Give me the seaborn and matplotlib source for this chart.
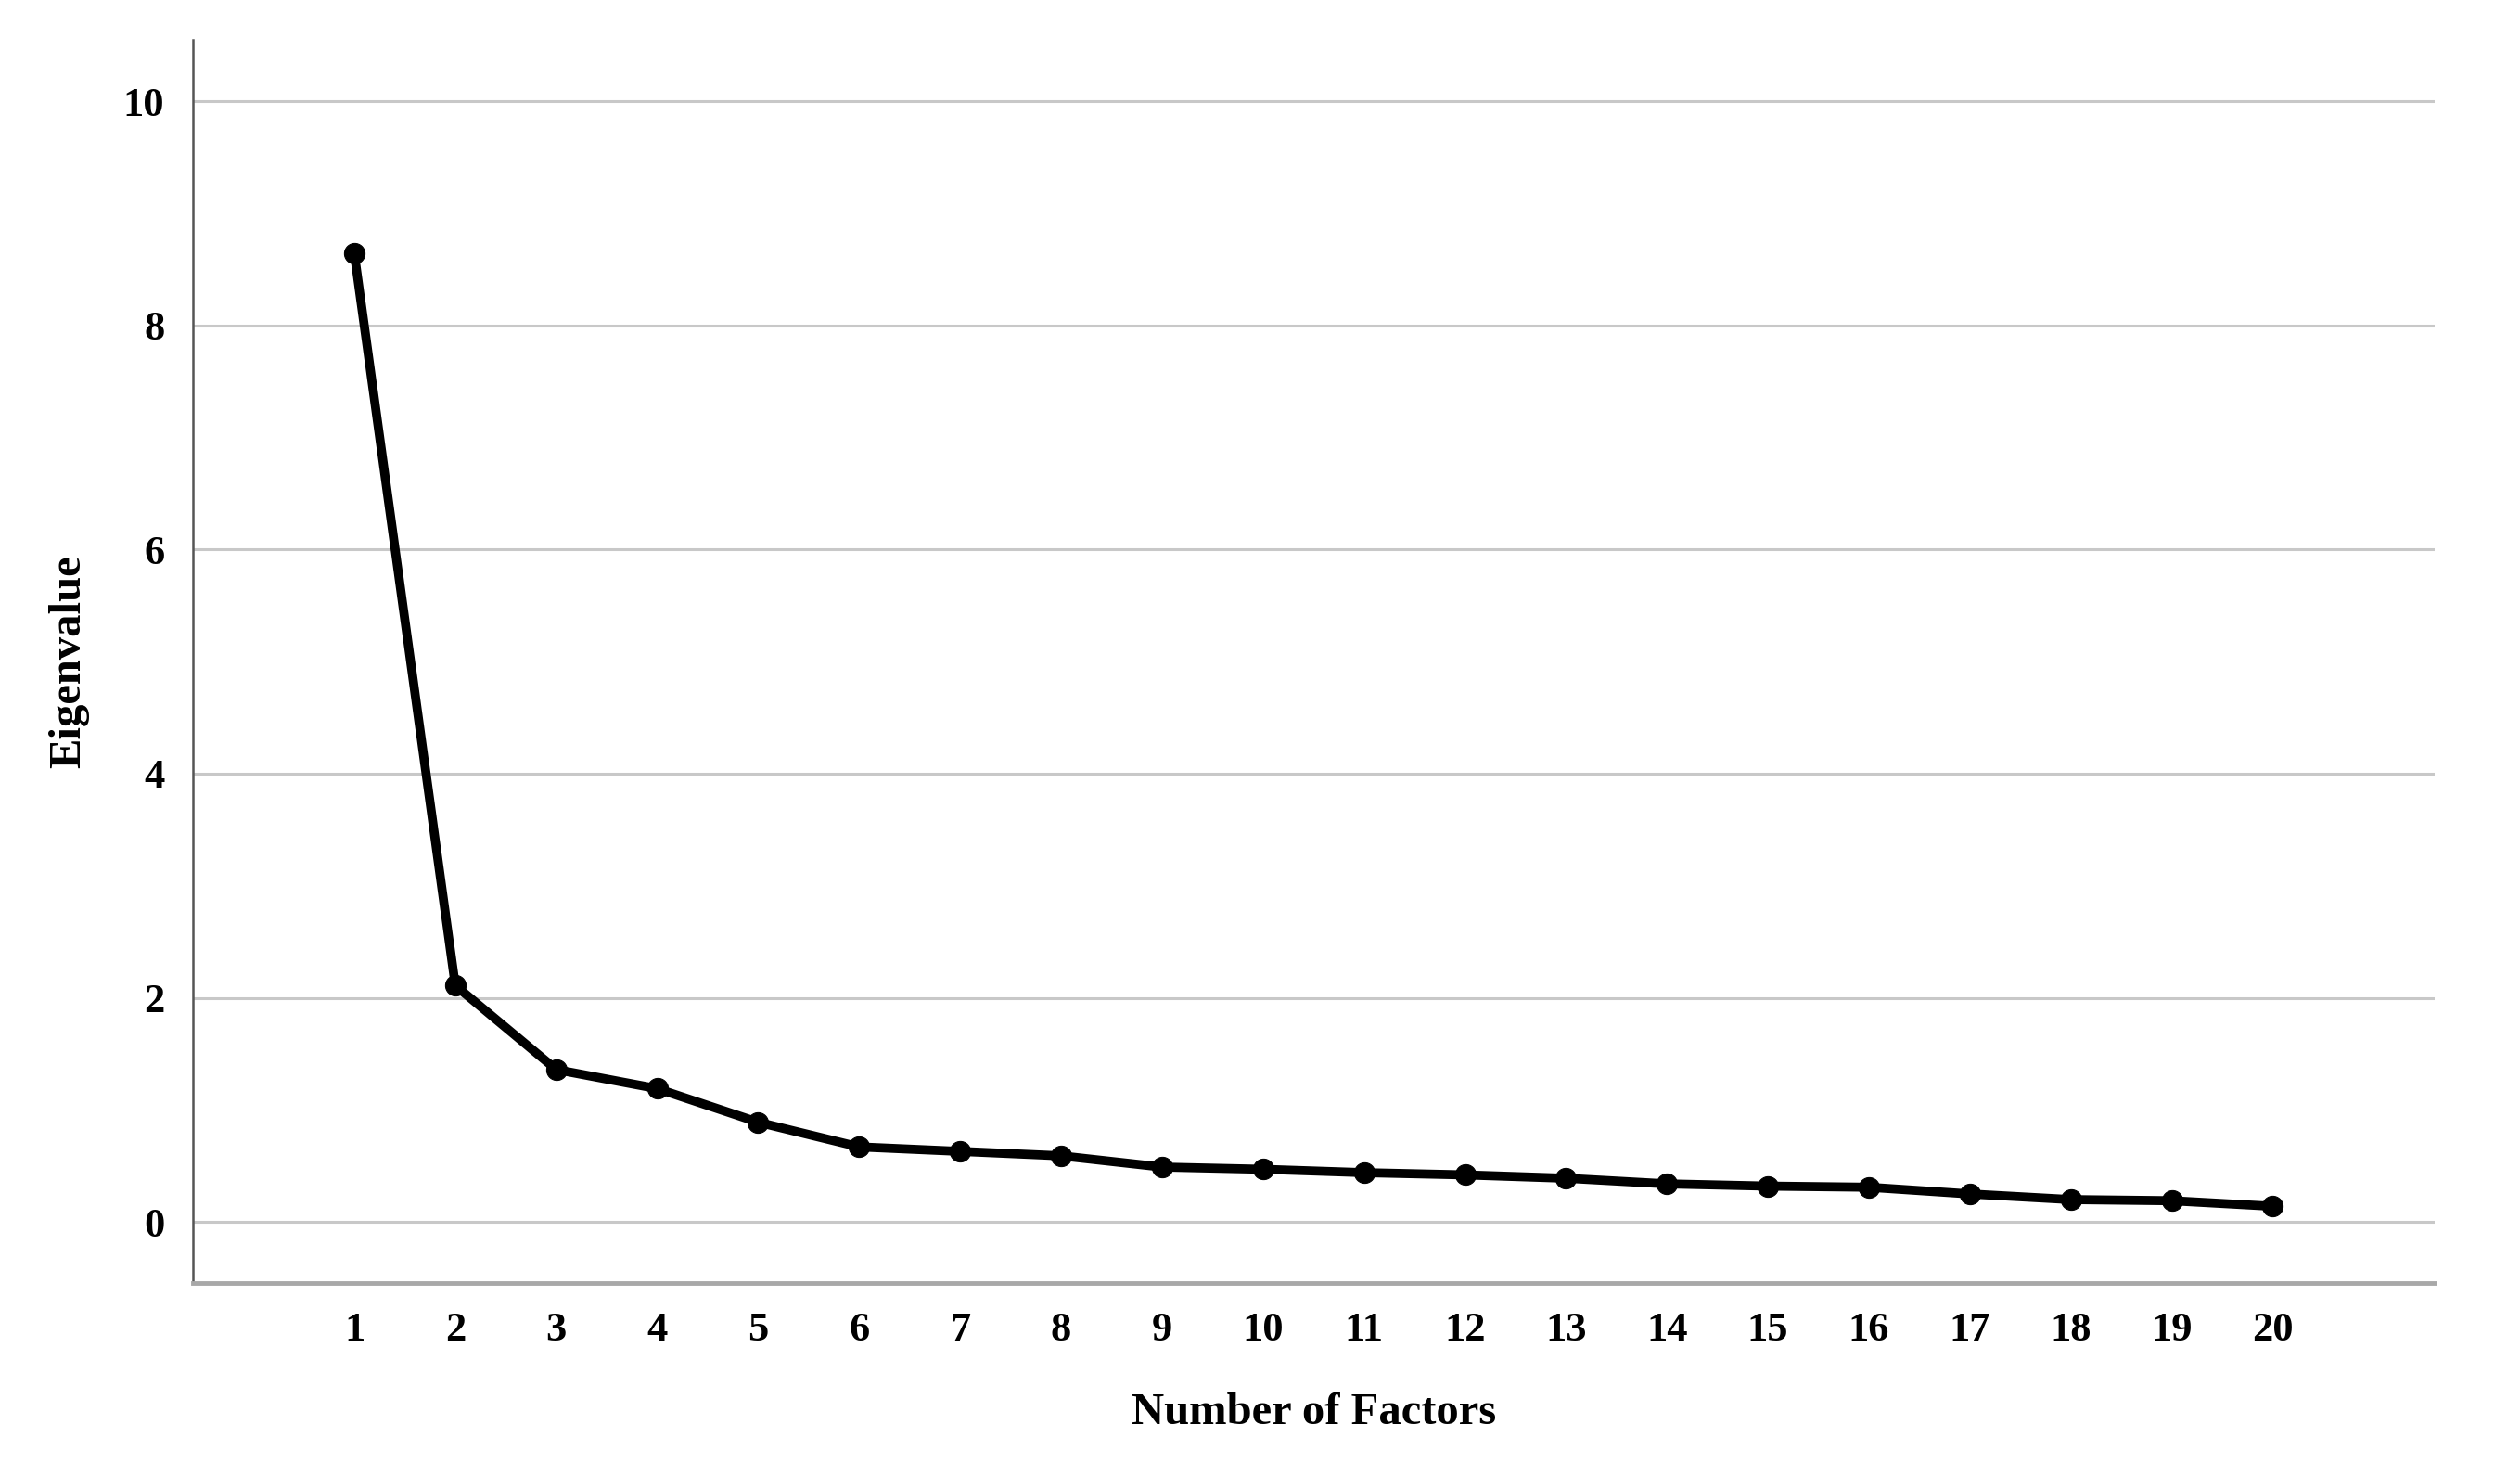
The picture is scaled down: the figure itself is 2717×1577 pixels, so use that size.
import numpy as np
import pandas as pd
import seaborn as sns
import matplotlib.pyplot as plt

# eigenvalues
factors = list(range(1, 21))
eigenvalues = [8.64, 2.11, 1.36, 1.19, 0.89, 0.67, 0.63, 0.59, 0.49, 0.47,
               0.44, 0.42, 0.39, 0.34, 0.32, 0.31, 0.25, 0.20, 0.19, 0.14]
y_ticks = [0, 2, 4, 6, 8, 10]


def plot_scree(df):
    """Scree plot of eigenvalues against factor number"""
    fig = plt.figure(figsize=(27.17, 15.77), dpi=100)
    ax = fig.add_axes([0.0765, 0.123, 0.8895, 0.8495])

    sns.lineplot(data=df, x="factor", y="eigenvalue", ax=ax, color="black",
                 linewidth=7, marker="o", markersize=16,
                 markeredgecolor="black", zorder=3)

    ax.set_xlim(-0.6, 21.6)
    ax.set_ylim(-0.545, 10.545)
    ax.set_xticks(factors)
    ax.set_yticks(y_ticks)
    ax.grid(axis="y", color="#c8c8c8", linewidth=2.2, zorder=0)
    ax.grid(axis="x", visible=False)

    for side in ["top", "right"]:
        ax.spines[side].set_visible(False)
    ax.spines["left"].set_color("#555555")
    ax.spines["left"].set_linewidth(1.8)
    ax.spines["bottom"].set_color("#a8a8a8")
    ax.spines["bottom"].set_linewidth(3.5)

    ax.tick_params(axis="both", length=0, labelsize=32, labelcolor="black")
    ax.tick_params(axis="x", pad=22)
    ax.tick_params(axis="y", pad=22)
    for lab in ax.get_xticklabels() + ax.get_yticklabels():
        lab.set_fontweight("bold")

    ax.set_xlabel("Number of Factors", fontsize=35, fontweight="bold",
                  color="black", labelpad=34)
    ax.set_ylabel("Eigenvalue", fontsize=35, fontweight="bold",
                  color="black", labelpad=26)

    plt.savefig("out.png", facecolor="white", dpi=100)


def main():
    df = pd.DataFrame({"factor": factors, "eigenvalue": eigenvalues})
    plot_scree(df)


if __name__ == "__main__":
    sns.set_style("white")
    plt.rcParams["font.family"] = ["Liberation Serif", "DejaVu Serif"]
    main()
